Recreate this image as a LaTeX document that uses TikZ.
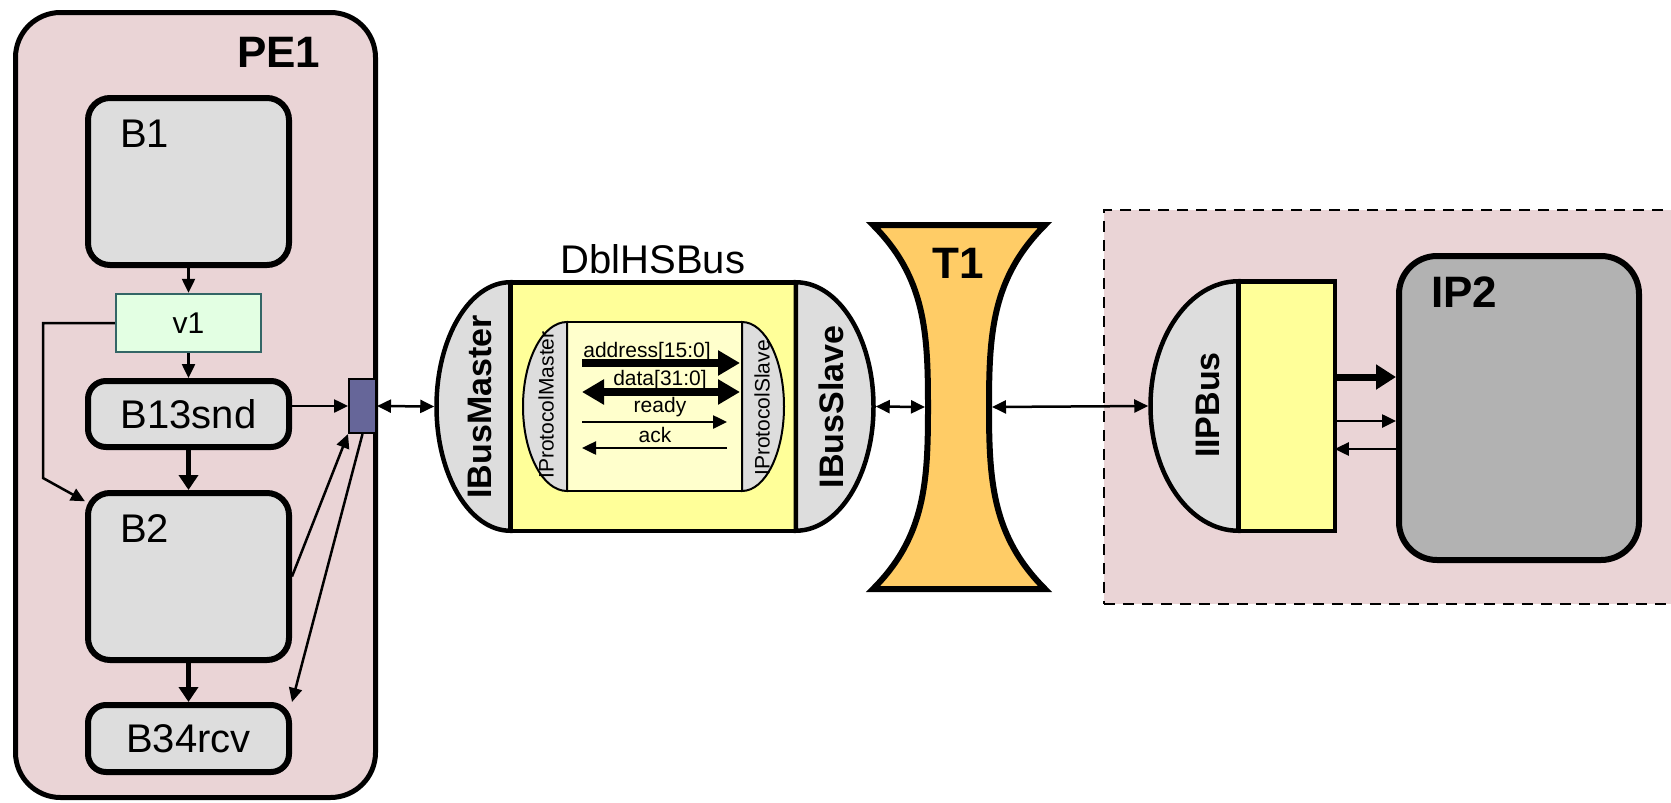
\documentclass[tikz,border=0pt]{standalone}
\usepackage{fontspec}
\setmainfont{Liberation Sans}
\usetikzlibrary{arrows.meta}
\definecolor{peRose}{HTML}{EAD4D6}
\definecolor{blockGray}{HTML}{DDDDDD}
\definecolor{varGreen}{HTML}{E3FFE3}
\definecolor{varEdge}{HTML}{336666}
\definecolor{portBlue}{HTML}{666699}
\definecolor{busYellow}{HTML}{FFFF99}
\definecolor{protoYellow}{HTML}{FFFFCC}
\definecolor{tOrange}{HTML}{FFCC66}
\definecolor{ipGray}{HTML}{B2B2B2}

\begin{document}
\begin{tikzpicture}[x=1pt,y=-1pt,
    pebox/.style={draw,line width=5pt,fill=peRose,rounded corners=45pt,minimum width=360pt,minimum height=785pt},
    block/.style={draw,line width=6pt,fill=blockGray,rounded corners=22pt,minimum width=201pt,inner sep=0pt,font=\fontsize{40}{48}\selectfont},
    varbox/.style={draw=varEdge,line width=2.5pt,fill=varGreen,minimum width=145pt,minimum height=58pt,font=\fontsize{30}{36}\selectfont},
    portbox/.style={draw,line width=2pt,fill=portBlue,minimum width=27pt,minimum height=54pt,inner sep=0pt},
    ybox/.style={draw,line width=4.5pt,fill=busYellow,outer sep=0pt,inner sep=0pt},
    pbox/.style={draw,line width=2pt,fill=protoYellow,outer sep=0pt,inner sep=0pt},
    lobe/.style={draw,line width=4.5pt,fill=blockGray},
    region/.style={draw,line width=2.5pt,dash pattern=on 11pt off 8pt,fill=peRose,inner sep=0pt},
    big/.style={font=\bfseries\fontsize{44}{52}\selectfont,inner sep=0pt},
    tag/.style={font=\fontsize{40}{48}\selectfont,inner sep=0pt},
    side/.style={font=\bfseries\fontsize{34}{40}\selectfont,rotate=90,inner sep=0pt},
    sig/.style={font=\fontsize{21}{25}\selectfont,inner sep=0pt},
    conn/.style={line width=2.5pt,-{Triangle[length=14pt,width=13pt]}},
    conn2/.style={line width=2.5pt,{Triangle[length=14pt,width=13pt]}-{Triangle[length=14pt,width=13pt]}},
    flow/.style={line width=5.5pt,-{Triangle[length=15pt,width=19pt]}},
    bus/.style={line width=8pt,-{Triangle[length=22pt,width=24pt]}},
    bus2/.style={line width=8pt,{Triangle[length=22pt,width=24pt]}-{Triangle[length=22pt,width=24pt]}},
    feed/.style={line width=7pt,-{Triangle[length=20pt,width=24pt]}}
  ]
  \useasboundingbox (0,0) rectangle (1671,803);
  \clip (0,0) rectangle (1671,803);

  % processing element PE1
  \node[pebox] (pe1) at (195.5,405) {};
  \node[big,anchor=base west] (pe1txt) at (237,67) {PE1};
  \node[block,minimum height=167pt] (b1) at (188.5,181.5) {};
  \node[tag,anchor=base west] (b1txt) at (120,147) {B1};
  \node[varbox] (v1) at (188.5,323) {v1};
  \node[block,minimum height=66pt,rounded corners=18pt] (b13) at (188.5,414) {B13snd};
  \node[block,minimum height=167pt] (b2) at (188.5,576.5) {};
  \node[tag,anchor=base west] (b2txt) at (120,542) {B2};
  \node[block,minimum height=67pt,rounded corners=18pt] (b34) at (188.5,738.5) {B34rcv};
  \node[portbox] (port) at (362.5,406) {};
  \coordinate (vbend) at (43,478);

  \draw[conn] (b1.south) -- (v1.north);
  \draw[conn] (v1.south) -- (b13.north);
  \draw[conn] (v1.west) -| (vbend) -- (b2.144);
  \draw[flow] (b13.south) -- (b2.north);
  \draw[flow] (b2.south) -- (b34.north);
  \draw[conn] (port.west -| b13.east) -- (port.west);
  \draw[conn] (b2.east) -- (port.south west);
  \draw[conn] (port.south) -- (b34.north east);

  % channel DblHSBus
  \node[ybox,minimum width=285.5pt,minimum height=248.5pt] (dhs) at (653,406.5) {};
  \draw[lobe] (dhs.north west) arc[start angle=90,end angle=270,x radius=73.75pt,y radius=124.25pt] -- cycle;
  \draw[lobe] (dhs.north east) arc[start angle=90,end angle=-90,x radius=77.75pt,y radius=124.25pt] -- cycle;
  \coordinate (ibmW) at ([xshift=-76pt]dhs.west);
  \coordinate (ibsE) at ([xshift=80pt]dhs.east);
  \node[tag,anchor=base] (dhstxt) at (653,273) {DblHSBus};
  \node[side] (ibm) at (480,407) {IBusMaster};
  \node[side] (ibs) at (831,407) {IBusSlave};

  \node[pbox,minimum width=175pt,minimum height=169pt] (proto) at (654.5,406.5) {};
  \draw[lobe,line width=2pt] (proto.north west) arc[start angle=90,end angle=270,x radius=44pt,y radius=84.5pt] -- cycle;
  \draw[lobe,line width=2pt] (proto.north east) arc[start angle=90,end angle=-90,x radius=42pt,y radius=84.5pt] -- cycle;
  \node[sig,rotate=90] (ipm) at (546,405) {IProtocolMaster};
  \node[sig,rotate=90] (ips) at (762,408) {IProtocolSlave};

  \foreach \lane/\yy/\xe in {adr/363/740,dat/392/740,rdy/422/727,ack/448/727}{
    \coordinate (\lane L) at (582,\yy);
    \coordinate (\lane R) at (\xe,\yy);
  }
  \draw[bus] (adrL) -- (adrR);
  \draw[bus2] (datL) -- (datR);
  \draw[conn] (rdyL) -- (rdyR);
  \draw[conn] (ackR) -- (ackL);
  \node[sig,anchor=base] (adrtxt) at (647,357) {address[15:0]};
  \node[sig,anchor=base] (dattxt) at (660,385) {data[31:0]};
  \node[sig,anchor=base] (rdytxt) at (660,412) {ready};
  \node[sig,anchor=base] (acktxt) at (655,442) {ack};

  \draw[conn2] (port.east) -- (ibmW);

  % transducer T1
  \draw[line width=6pt,fill=tOrange] (873,225) -- (1045,225)
    to[out=-135,in=90] (989,407) to[out=-90,in=135] (1045,589)
    -- (873,589) to[out=45,in=-90] (928,407) to[out=90,in=-45] cycle;
  \node[big,anchor=base] (t1txt) at (958,278) {T1};
  \coordinate (t1W) at (925,407);
  \coordinate (t1E) at (992,407);
  \draw[conn2] (ibsE) -- (t1W);

  % IP2 with its bus interface
  \node[region,minimum width=586pt,minimum height=394pt] (ipzone) at (1397,407) {};
  \node[ybox,minimum width=96.5pt,minimum height=249.5pt] (ipb) at (1286.5,406) {};
  \draw[lobe] (ipb.north west) arc[start angle=90,end angle=270,x radius=87.75pt,y radius=124.75pt] -- cycle;
  \coordinate (ipbW) at ([xshift=-90pt]ipb.west);
  \node[side] (iipbus) at (1207.5,405) {IIPBus};
  \node[draw,line width=6pt,fill=ipGray,rounded corners=38pt,minimum width=240pt,minimum height=304pt] (ip2) at (1519,408) {};
  \node[big,anchor=base west] (ip2txt) at (1431,307) {IP2};

  \draw[conn2] (t1E) -- (ipbW);
  \draw[feed] ([yshift=29pt]ipb.east) -- ([yshift=29pt]ipb.east -| ip2.west);
  \draw[conn] ([yshift=-15pt]ipb.east) -- ([yshift=-15pt]ipb.east -| ip2.west);
  \draw[conn] ([yshift=-43pt]ipb.east -| ip2.west) -- ([yshift=-43pt]ipb.east);
\end{tikzpicture}
\end{document}
